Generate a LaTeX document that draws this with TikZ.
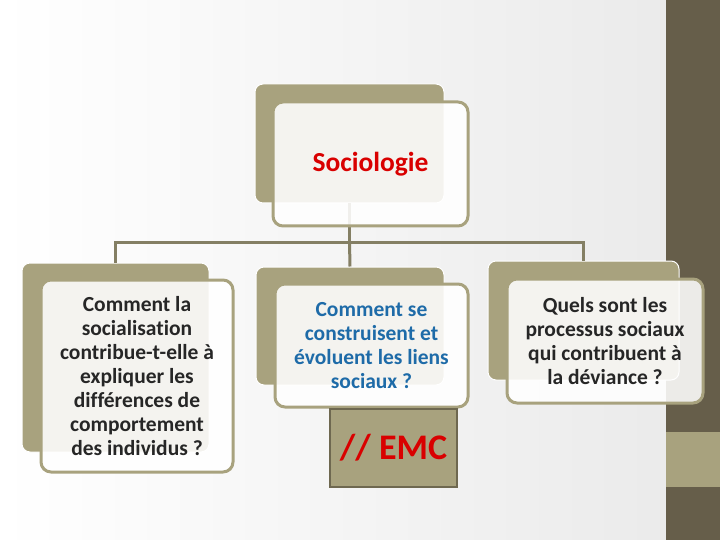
\documentclass[tikz,border=0pt]{standalone}
\usepackage{fontspec}
\setmainfont[Ligatures=NoCommon]{Carlito}
\usetikzlibrary{positioning}

\begin{document}
\begin{tikzpicture}[x=1pt,y=-1pt]
  % Colors
  \definecolor{boxcolor}{HTML}{A8A27E}
  \definecolor{linecolor}{HTML}{847F64}
  \definecolor{stripcolor}{HTML}{665E4A}
  \definecolor{emcborder}{HTML}{6E6850}
  \colorlet{redtext}{red!85!black}
  \definecolor{bluetext}{HTML}{1E6BA8}
  \definecolor{greytext}{HTML}{262626}

  % Styles
  \tikzstyle{back box}=[fill=boxcolor,draw=white,line width=1pt,rounded corners=8pt,inner sep=0pt]
  \tikzstyle{front box}=[fill=white,fill opacity=0.88,text opacity=1,draw=boxcolor,line width=3pt,
    rounded corners=10pt,align=center,inner sep=0pt,text=greytext,
    font=\bfseries\fontsize{21.5}{24}\selectfont]
  \tikzstyle{connector}=[draw=linecolor,line width=3pt]

  % Background
  \useasboundingbox (0,0) rectangle (720,540);
  \shade[left color=white,right color=black!8] (0,0) rectangle (666,540);
  \fill[stripcolor] (666,0) rectangle (720,540);
  \fill[boxcolor] (666,432) rectangle (720,487);

  % Back boxes
  \node[back box,minimum width=189pt,minimum height=119pt] (socback) at (349.5,143.5) {};
  \node[back box,minimum width=187pt,minimum height=189pt] (leftback) at (115.5,357.5) {};
  \node[back box,minimum width=188pt,minimum height=118pt] (midback) at (350,326) {};
  \node[back box,minimum width=191pt,minimum height=119pt] (rightback) at (583.5,320.5) {};

  % Connectors
  \coordinate (bar) at (socback.south |- 0,242);
  \draw[connector] (socback.south) -- (bar);
  \draw[connector] (bar) -| (leftback.north);
  \draw[connector] (bar) -- (midback.north);
  \draw[connector] (bar) -| (rightback.north);

  % Front boxes
  \node[front box,minimum width=195pt,minimum height=124pt,text=redtext,
    font=\bfseries\fontsize{27.5}{30}\selectfont] (soc) at (370.5,164) {Sociologie};
  \node[front box,minimum width=192pt,minimum height=192pt] (left) at (137,376)
    {Comment la\\socialisation\\contribue-t-elle à\\expliquer les\\différences de\\comportement\\des individus ?};
  \node[front box,minimum width=193pt,minimum height=123pt,text=bluetext] (mid) at (371.5,345.5)
    {Comment se\\construisent et\\évoluent les liens\\sociaux ?};
  \node[front box,minimum width=196pt,minimum height=124pt] (right) at (605,341)
    {Quels sont les\\processus sociaux\\qui contribuent à\\la déviance ?};

  % EMC
  \node[fill=boxcolor,draw=emcborder,line width=2.5pt,minimum width=127pt,minimum height=78pt,
    text=redtext,font=\bfseries\fontsize{36}{40}\selectfont] (emc) at (393.5,448) {// EMC};
\end{tikzpicture}
\end{document}
